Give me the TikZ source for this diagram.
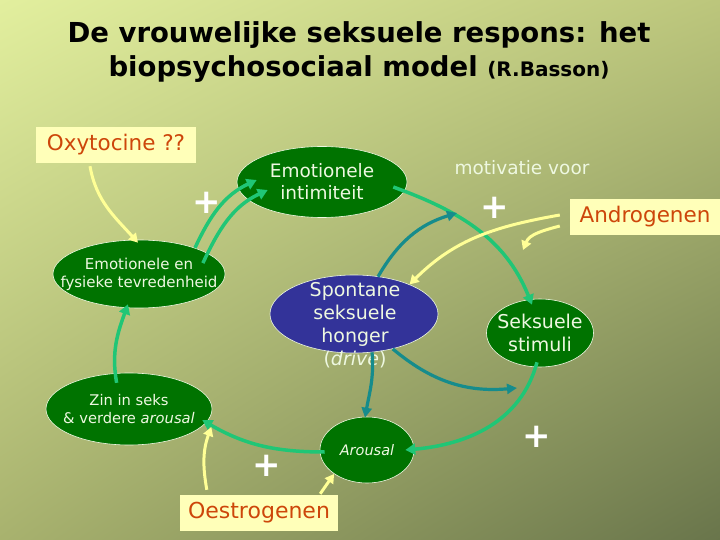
\documentclass[tikz,border=0pt]{standalone}
\usepackage{fontspec}
\setmainfont{DejaVu Sans}
\usetikzlibrary{shapes.geometric,arrows.meta,shadings}
\definecolor{bgtl}{RGB}{226,239,158}
\definecolor{bgtr}{RGB}{188,198,124}
\definecolor{bgbl}{RGB}{168,178,110}
\definecolor{bgbr}{RGB}{105,117,75}
\definecolor{leafgreen}{RGB}{0,115,0}
\definecolor{nightblue}{RGB}{51,51,153}
\definecolor{mint}{RGB}{32,198,118}
\definecolor{driveteal}{RGB}{22,140,140}
\definecolor{butter}{RGB}{255,255,150}
\definecolor{paleyellow}{RGB}{255,255,185}
\definecolor{rust}{RGB}{205,70,10}
\definecolor{softwhite}{RGB}{238,248,225}
\begin{document}
\begin{tikzpicture}[x=1pt,y=1pt,
  blob/.style={ellipse, draw=softwhite, line width=0.6pt, fill=leafgreen, text=softwhite, align=center, inner sep=-40pt},
  hormone/.style={rectangle, fill=paleyellow, text=rust, minimum height=36pt, inner sep=0pt},
  plus/.style={text=white, font=\bfseries\fontsize{34}{34}\selectfont, inner sep=0pt},
  greenarr/.style={draw=mint, line width=3.5pt, -{Triangle[length=10pt,width=11pt]}},
  tealarr/.style={draw=driveteal, line width=3.2pt, -{Triangle[length=10pt,width=10pt]}},
  yellowarr/.style={draw=butter, line width=3pt, -{Triangle[length=9pt,width=10pt]}}]
  \shade[upper left=bgtl, upper right=bgtr, lower left=bgbl, lower right=bgbr] (0,0) rectangle (720,-540);
  \useasboundingbox (0,0) rectangle (720,-540);

  \node[font=\bfseries\fontsize{27.5}{34}\selectfont, align=center] (title) at (359,-52)
    {De vrouwelijke seksuele respons: het\\biopsychosociaal model {\fontsize{20}{34}\selectfont (R.Basson)}};

  % ellipses
  \node[blob, minimum width=170pt, minimum height=71pt, font=\fontsize{18.5}{22}\selectfont] (intim) at (322,-182) {Emotionele\\intimiteit};
  \node[blob, minimum width=172pt, minimum height=68pt, font=\fontsize{15}{18}\selectfont] (tevred) at (139,-274) {Emotionele en\\fysieke tevredenheid};
  \node[blob, fill=nightblue, minimum width=168pt, minimum height=78pt] (drive) at (354,-314) {};
  \node[text=softwhite, align=center, font=\fontsize{19}{23}\selectfont] (drivetext) at (355,-325)
    {Spontane\\seksuele\\honger\\(\textit{drive})};
  \node[blob, minimum width=107pt, minimum height=68pt, font=\fontsize{19}{23}\selectfont] (stimuli) at (540,-333) {Seksuele\\stimuli};
  \node[blob, minimum width=166pt, minimum height=72pt, font=\fontsize{14.7}{18}\selectfont] (zin) at (129,-409) {Zin in seks\\\& verdere \textit{arousal}};
  \node[blob, minimum width=94pt, minimum height=66pt, font=\fontsize{14.5}{17}\selectfont\itshape] (arousal) at (367,-450) {Arousal};

  % hormones
  \node[hormone, minimum width=160pt, font=\fontsize{21.5}{24}\selectfont] (oxy) at (116,-145) {Oxytocine ??};
  \node[hormone, minimum width=150pt, minimum height=35pt, font=\fontsize{21.5}{24}\selectfont] (andro) at (645,-217) {Androgenen};
  \node[hormone, minimum width=158pt, font=\fontsize{22}{24}\selectfont] (oestro) at (259,-513) {Oestrogenen};

  \node[text=softwhite, font=\fontsize{18.5}{20}\selectfont] (motivatie) at (522,-168) {motivatie voor};
  \foreach \px/\py [count=\i] in {207/203,495/208,267/466,537/437}
    \node[plus] (plus\i) at (\px,-\py) {+};

  \coordinate (motiv) at (457,-213);
  \coordinate (stimtip) at (517,-388);
  \coordinate (androtip) at (523,-250);

  % green cycle
  \draw[greenarr] (tevred.25) to[out=65,in=205] ([xshift=20pt,yshift=2pt]intim.west);
  \draw[greenarr] ([xshift=-15pt,yshift=-3pt]tevred.10) to[out=65,in=205] ([xshift=31pt,yshift=-8pt]intim.west);
  \draw[greenarr] ([xshift=-14pt,yshift=-5pt]intim.east) to[out=-20,in=112] ([xshift=-8pt,yshift=-6pt]stimuli.north);
  \draw[greenarr] ([xshift=-3pt,yshift=5pt]stimuli.south) to[out=-105,in=5] ([xshift=-9pt]arousal.east);
  \draw[greenarr] ([xshift=5pt,yshift=-2pt]arousal.west) to[out=180,in=-30] ([xshift=-6pt]zin.-8);
  \draw[greenarr] ([xshift=-6pt,yshift=-10pt]zin.100) to[out=100,in=-110] ([shift={(-5pt,4pt)}]tevred.260);

  % drive
  \draw[tealarr] ([xshift=24pt,yshift=-2pt]drive.north) to[out=60,in=197] (motiv);
  \draw[tealarr] ([xshift=18pt,yshift=1pt]drive.south) to[out=-85,in=80] ([xshift=-2pt,yshift=-1pt]arousal.north);
  \draw[tealarr] (drive.-42) to[out=-40,in=185] (stimtip);

  % hormones
  \draw[yellowarr] ([xshift=-26pt,yshift=-3pt]oxy.south) to[out=-80,in=132] ([xshift=-1pt,yshift=-3pt]tevred.north);
  \draw[yellowarr] ([xshift=-10pt,yshift=2pt]andro.west) to[out=190,in=45] (drive.28);
  \draw[yellowarr] ([xshift=-10pt,yshift=-9pt]andro.west) to[out=195,in=68] (androtip);
  \draw[yellowarr] ([xshift=27pt,yshift=5pt]oestro.north west) to[out=100,in=-110] ([xshift=10pt]zin.-14);
  \draw[yellowarr] ([xshift=-18pt,yshift=1pt]oestro.north east) to[out=55,in=-125] (arousal.216);
\end{tikzpicture}
\end{document}
